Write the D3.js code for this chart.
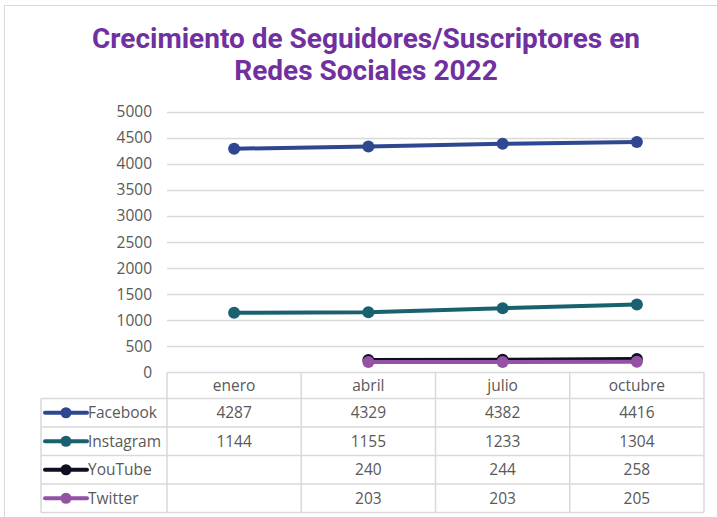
<!DOCTYPE html>
<html>
<head>
<meta charset="utf-8">
<script src="https://cdn.jsdelivr.net/npm/d3@7"></script>
<style>
  body { margin: 0; background: #fff; }
  svg text { font-family: "Open Sans", "Noto Sans", sans-serif; }
</style>
</head>
<body>
<svg id="chart" width="717" height="517"></svg>
<script>
// data
const months = ["enero", "abril", "julio", "octubre"];
const seriesNames = ["Facebook", "Instagram", "YouTube", "Twitter"];
const facebook = [4287, 4329, 4382, 4416];
const instagram = [1144, 1155, 1233, 1304];
const youtube = [null, 240, 244, 258];
const twitter = [null, 203, 203, 205];
const yTicks = [0, 500, 1000, 1500, 2000, 2500, 3000, 3500, 4000, 4500, 5000];
const colors = ["#2E4790", "#1A6170", "#0E0E24", "#9552A5"];

const series = [facebook, instagram, youtube, twitter].map((values, i) => ({
  name: seriesNames[i],
  color: colors[i],
  values: values
}));

const svg = d3.select("#chart");
const fontSize = "15.5px";

// outer frame
svg.append("rect")
  .attr("x", 4.5).attr("y", 5.5)
  .attr("width", 730).attr("height", 530)
  .attr("fill", "none")
  .attr("stroke", "#d9d9d9");

// title
const title = svg.append("text")
  .attr("text-anchor", "middle")
  .style("font-family", "Roboto, sans-serif")
  .style("font-weight", "bold")
  .style("font-size", "28px")
  .style("fill", "#7030A0");
title.append("tspan").attr("x", 366).attr("y", 48).text("Crecimiento de Seguidores/Suscriptores en");
title.append("tspan").attr("x", 366).attr("y", 80).text("Redes Sociales 2022");

const plotLeft = 167, plotRight = 704, plotTop = 111.5, plotBottom = 372.5;

const x = d3.scaleBand().domain(months).range([plotLeft, plotRight]);
const y = d3.scaleLinear().domain([0, 5000]).range([plotBottom, plotTop]);

// gridlines
svg.append("g")
  .selectAll("line")
  .data(yTicks.filter(d => d > 0))
  .join("line")
  .attr("x1", plotLeft).attr("x2", plotRight)
  .attr("y1", d => Math.round(y(d)) + 0.5)
  .attr("y2", d => Math.round(y(d)) + 0.5)
  .attr("stroke", "#d9d9d9")
  .attr("stroke-width", 1.5);

// y axis labels
svg.append("g")
  .selectAll("text")
  .data(yTicks)
  .join("text")
  .attr("x", 152)
  .attr("y", d => y(d) + 5.5)
  .attr("text-anchor", "end")
  .style("font-size", fontSize)
  .style("fill", "#595959")
  .text(d => d);

// lines and markers
const line = d3.line()
  .defined(d => d != null)
  .x((d, i) => x(months[i]) + x.bandwidth() / 2)
  .y(d => y(d));

series.forEach(s => {
  svg.append("path")
    .datum(s.values)
    .attr("d", line)
    .attr("fill", "none")
    .attr("stroke", s.color)
    .attr("stroke-width", 4)
    .attr("stroke-linecap", "round");
  svg.append("g")
    .selectAll("circle")
    .data(s.values.map((v, i) => ({ v, m: months[i] })).filter(d => d.v != null))
    .join("circle")
    .attr("cx", d => x(d.m) + x.bandwidth() / 2)
    .attr("cy", d => y(d.v))
    .attr("r", 6)
    .attr("fill", s.color);
});

// data table
const tableLeft = 41;
const headerTop = plotBottom, headerH = 26, rowH = 28.5;
const rowY = i => headerTop + headerH + i * rowH;
const tableBottom = rowY(series.length);
const grid = svg.append("g").attr("stroke", "#d9d9d9").attr("stroke-width", 1.5);

// horizontal rules
grid.append("line").attr("x1", plotLeft).attr("x2", plotRight).attr("y1", headerTop).attr("y2", headerTop);
d3.range(series.length + 1).forEach(i => {
  grid.append("line").attr("x1", tableLeft).attr("x2", plotRight).attr("y1", rowY(i)).attr("y2", rowY(i));
});
// vertical rules
grid.append("line").attr("x1", tableLeft).attr("x2", tableLeft).attr("y1", rowY(0)).attr("y2", tableBottom);
months.forEach(m => {
  grid.append("line").attr("x1", x(m)).attr("x2", x(m)).attr("y1", headerTop).attr("y2", tableBottom);
});
grid.append("line").attr("x1", plotRight).attr("x2", plotRight).attr("y1", headerTop).attr("y2", tableBottom);

// header labels
svg.append("g")
  .selectAll("text")
  .data(months)
  .join("text")
  .attr("x", d => x(d) + x.bandwidth() / 2)
  .attr("y", headerTop + headerH / 2 + 5.5)
  .attr("text-anchor", "middle")
  .style("font-size", fontSize)
  .style("fill", "#595959")
  .text(d => d);

// rows
series.forEach((s, i) => {
  const cy = rowY(i) + rowH / 2;
  svg.append("line")
    .attr("x1", 45).attr("x2", 87)
    .attr("y1", cy).attr("y2", cy)
    .attr("stroke", s.color).attr("stroke-width", 4).attr("stroke-linecap", "round");
  svg.append("circle").attr("cx", 66).attr("cy", cy).attr("r", 5.5).attr("fill", s.color);
  svg.append("text")
    .attr("x", 88).attr("y", cy + 5.5)
    .style("font-size", fontSize)
    .style("fill", "#595959")
    .text(s.name);
  s.values.forEach((v, j) => {
    if (v == null) return;
    svg.append("text")
      .attr("x", x(months[j]) + x.bandwidth() / 2)
      .attr("y", cy + 5.5)
      .attr("text-anchor", "middle")
      .style("font-size", fontSize)
      .style("fill", "#595959")
      .text(v);
  });
});
</script>
</body>
</html>
